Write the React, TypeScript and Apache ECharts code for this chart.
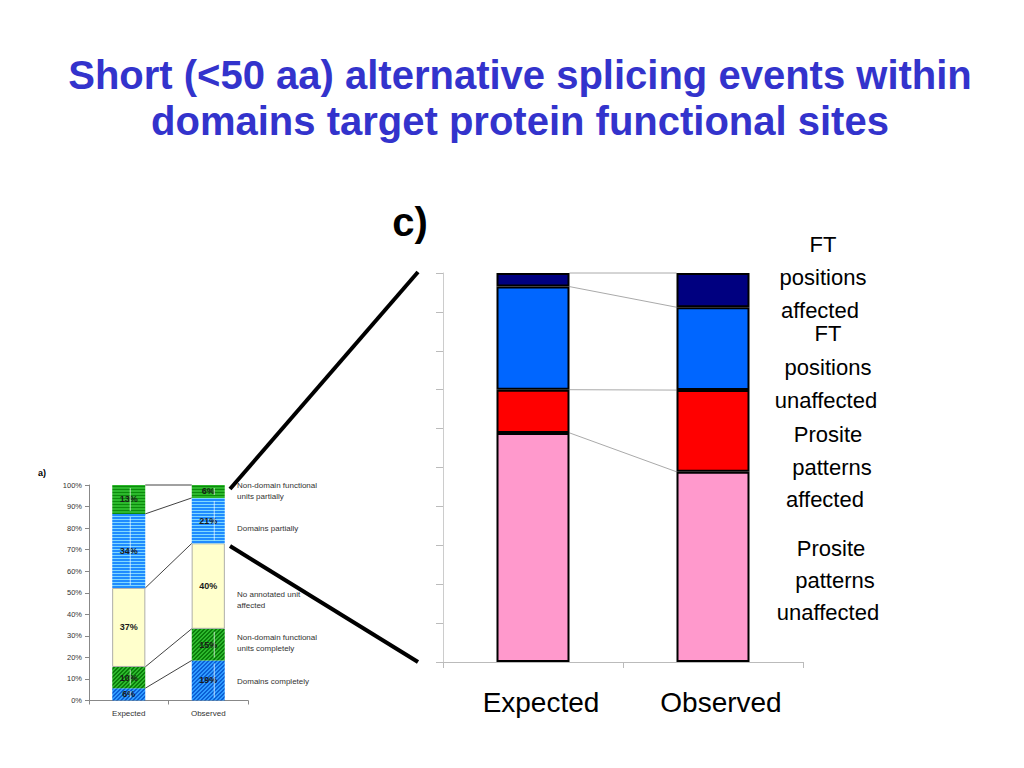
import React, { useEffect, useRef } from "react";
import * as echarts from "echarts";

// ---------- data ----------
const categories = ["Expected", "Observed"];

// small chart (a), bottom to top
const smallSeriesNames = [
  "Domains completely",
  "Non-domain functional units completely",
  "No annotated unit affected",
  "Domains partially",
  "Non-domain functional units partially",
];
const smallExpected = [5.7, 9.9, 36.6, 34.4, 13.4];
const smallObserved = [18.6, 14.7, 39.6, 21.1, 6.0];
const smallTicks = [0, 10, 20, 30, 40, 50, 60, 70, 80, 90, 100];

// small chart side labels (top to bottom)
const smallLabels = [
  ["Non-domain functional", "units partially"],
  ["Domains partially"],
  ["No annotated unit", "affected"],
  ["Non-domain functional", "units completely"],
  ["Domains completely"],
];

// big chart (c), bottom to top
const bigSeriesNames = [
  "Prosite patterns unaffected",
  "Prosite patterns affected",
  "FT positions unaffected",
  "FT positions affected",
];
const bigExpected = [58.9, 11.1, 26.5, 3.5];
const bigObserved = [48.9, 21.0, 21.3, 8.8];

// big chart side labels (top to bottom)
const bigLabels = [
  ["FT", "positions", "affected"],
  ["FT", "positions", "unaffected"],
  ["Prosite", "patterns", "affected"],
  ["Prosite", "patterns", "unaffected"],
];

const titleLines = [
  "Short (<50 aa) alternative splicing events within",
  "domains target protein functional sites",
];

// ---------- helpers ----------
function cumulative(arr: number[]): number[] {
  const out: number[] = [];
  let s = 0;
  for (const v of arr) {
    s += v;
    out.push(s);
  }
  return out;
}

function linesRenderer(cumA: number[], cumB: number[], barW: number, color: string, width: number) {
  return (params: any, api: any) => {
    const i = params.dataIndex;
    const p1 = api.coord([0, cumA[i]]);
    const p2 = api.coord([1, cumB[i]]);
    return {
      type: "line",
      shape: { x1: p1[0] + barW / 2, y1: p1[1], x2: p2[0] - barW / 2, y2: p2[1] },
      style: { stroke: color, lineWidth: width },
      silent: true,
    };
  };
}

function makePattern(base: string, stripe: string, kind: "h" | "d") {
  const c = document.createElement("canvas");
  const size = kind === "h" ? 3 : 4;
  c.width = size;
  c.height = size;
  const ctx = c.getContext("2d")!;
  ctx.fillStyle = base;
  ctx.fillRect(0, 0, size, size);
  ctx.fillStyle = stripe;
  if (kind === "h") {
    ctx.fillRect(0, 0, size, 1);
  } else {
    for (let x = 0; x < size; x++) {
      for (let y = 0; y < size; y++) {
        if ((x + y) % 4 < 2) ctx.fillRect(x, y, 1, 1);
      }
    }
  }
  return { image: c, repeat: "repeat" };
}

const FONT = "'Liberation Sans', Arial, sans-serif";

export default function App() {
  const ref = useRef<HTMLDivElement>(null);

  useEffect(() => {
    document.body.style.margin = "0";
    if (!ref.current) return;
    const chart = echarts.init(ref.current, undefined, { renderer: "svg" });

    const smallBarW = 33;
    const bigBarW = 73;

    const smallStyles: any[] = [
      { color: makePattern("#2f9cff", "#0b5fd6", "d") },
      { color: makePattern("#2db82d", "#0a7d0a", "d") },
      { color: "#ffffcc", borderColor: "#999", borderWidth: 0.8 },
      { color: makePattern("#1f8cff", "#7fd8ff", "h") },
      { color: makePattern("#2cb82c", "#0c8a0c", "h") },
    ];
    const patterned = [true, true, false, true, true];

    const bigColors = ["#ff99cc", "#ff0000", "#0066ff", "#000080"];

    const smallSeries = smallSeriesNames.map((name, k) => ({
      name,
      type: "bar",
      stack: "a",
      xAxisIndex: 0,
      yAxisIndex: 0,
      barWidth: smallBarW,
      data: [smallExpected[k], smallObserved[k]],
      itemStyle: smallStyles[k],
      label: {
        show: true,
        position: "inside",
        formatter: (p: any) => Math.round(p.value) + "%",
        fontSize: 9,
        fontWeight: "bold",
        fontFamily: FONT,
        color: "#1a1a1a",
      },
      z: 2,
    }));

    const bigSeries = bigSeriesNames.map((name, k) => ({
      name,
      type: "bar",
      stack: "c",
      xAxisIndex: 1,
      yAxisIndex: 1,
      barWidth: bigBarW,
      data: [bigExpected[k], bigObserved[k]],
      itemStyle: { color: bigColors[k], borderColor: "#000", borderWidth: 2 },
    }));

    const smallCumE = cumulative(smallExpected);
    const smallCumO = cumulative(smallObserved);
    const bigCumE = cumulative(bigExpected);
    const bigCumO = cumulative(bigObserved);

    // white vertical streaks inside patterned segments of small bars
    const streakOffsets = [1.5, 6];
    const streakItems: number[][] = [];
    [smallExpected, smallObserved].forEach((vals, c) => {
      let base = 0;
      vals.forEach((v, k) => {
        if (patterned[k]) streakItems.push([c, base, base + v]);
        base += v;
      });
    });

    const graphics: any[] = [];
    titleLines.forEach((t, i) => {
      graphics.push({
        type: "text",
        x: 520,
        y: 75 + i * 46,
        style: {
          text: t,
          font: `bold 40px ${FONT}`,
          fill: "#3333cc",
          textAlign: "center",
          textVerticalAlign: "middle",
        },
      });
    });
    graphics.push({
      type: "text",
      x: 410,
      y: 222,
      style: { text: "c)", font: `bold 40px ${FONT}`, fill: "#000", textAlign: "center", textVerticalAlign: "middle" },
    });
    graphics.push({
      type: "text",
      x: 42,
      y: 473,
      style: { text: "a)", font: `bold 9px ${FONT}`, fill: "#000", textAlign: "center", textVerticalAlign: "middle" },
    });
    // thick connectors
    graphics.push({
      type: "line",
      shape: { x1: 230, y1: 489, x2: 418, y2: 272 },
      style: { stroke: "#000", lineWidth: 4 },
    });
    graphics.push({
      type: "line",
      shape: { x1: 230, y1: 546, x2: 418, y2: 662 },
      style: { stroke: "#000", lineWidth: 4 },
    });
    // small chart labels
    const smallLabelY = [485, 528.5, 594, 637, 681];
    smallLabels.forEach((lines, i) => {
      lines.forEach((t, j) => {
        graphics.push({
          type: "text",
          x: 237,
          y: smallLabelY[i] + j * 11,
          style: { text: t, font: `8px ${FONT}`, fill: "#333", textAlign: "left", textVerticalAlign: "middle" },
        });
      });
    });
    // big chart labels
    const bigLabelPos = [
      [[823, 244], [823, 277], [820, 310]],
      [[828, 333], [828, 367], [826, 400]],
      [[828, 434], [832, 467], [825, 499]],
      [[831, 548], [835, 580], [828, 612]],
    ];
    bigLabels.forEach((lines, i) => {
      lines.forEach((t, j) => {
        graphics.push({
          type: "text",
          x: bigLabelPos[i][j][0],
          y: bigLabelPos[i][j][1],
          style: { text: t, font: `22px ${FONT}`, fill: "#000", textAlign: "center", textVerticalAlign: "middle" },
        });
      });
    });

    chart.setOption({
      animation: false,
      backgroundColor: "#fff",
      grid: [
        { left: 89, top: 485, width: 159, height: 215.5, containLabel: false },
        { left: 443, top: 273, width: 360, height: 389, containLabel: false },
      ],
      xAxis: [
        {
          type: "category",
          gridIndex: 0,
          data: categories,
          axisLine: { lineStyle: { color: "#888", width: 1 } },
          axisTick: { show: true, length: 4, lineStyle: { color: "#888" } },
          axisLabel: { fontSize: 8, color: "#333", fontFamily: FONT, margin: 9 },
        },
        {
          type: "category",
          gridIndex: 1,
          data: categories,
          axisLine: { lineStyle: { color: "#bbb", width: 1 } },
          axisTick: { show: true, length: 6, lineStyle: { color: "#bbb" } },
          axisLabel: { fontSize: 28, color: "#000", fontFamily: FONT, margin: 26, padding: [0, 0, 0, 16] },
        },
      ],
      yAxis: [
        {
          type: "value",
          gridIndex: 0,
          min: smallTicks[0],
          max: smallTicks[smallTicks.length - 1],
          interval: 10,
          axisLine: { show: true, lineStyle: { color: "#888", width: 1 } },
          axisTick: { show: true, length: 4, lineStyle: { color: "#888" } },
          splitLine: { show: false },
          axisLabel: { fontSize: 7.5, color: "#333", fontFamily: FONT, margin: 7, formatter: "{value}%" },
        },
        {
          type: "value",
          gridIndex: 1,
          min: 0,
          max: 100,
          interval: 10,
          axisLine: { show: true, lineStyle: { color: "#ccc", width: 1 } },
          axisTick: { show: true, length: 7, lineStyle: { color: "#bbb" } },
          splitLine: { show: false },
          axisLabel: { show: false },
        },
      ],
      series: [
        ...smallSeries,
        ...bigSeries,
        {
          type: "custom",
          xAxisIndex: 0,
          yAxisIndex: 0,
          renderItem: (params: any, api: any) => {
            const it = streakItems[params.dataIndex];
            const p1 = api.coord([it[0], it[1]]);
            const p2 = api.coord([it[0], it[2]]);
            const x = p1[0] + streakOffsets[it[0]];
            return {
              type: "line",
              shape: { x1: x, y1: p1[1] - 3, x2: x, y2: p2[1] + 3 },
              style: { stroke: "#ffffff", lineWidth: 0.8, opacity: 0.85 },
              silent: true,
            };
          },
          data: streakItems.map((it) => [it[0], it[2]]),
          z: 3,
          silent: true,
        },
        {
          type: "custom",
          xAxisIndex: 0,
          yAxisIndex: 0,
          renderItem: linesRenderer(smallCumE, smallCumO, smallBarW, "#111", 0.8),
          data: smallCumE.map((v) => [0, v]),
          z: 1,
          silent: true,
        },
        {
          type: "custom",
          xAxisIndex: 1,
          yAxisIndex: 1,
          renderItem: linesRenderer(bigCumE, bigCumO, bigBarW, "#aaa", 1),
          data: bigCumE.map((v) => [0, v]),
          z: 1,
          silent: true,
        },
      ],
      graphic: graphics,
    });

    return () => chart.dispose();
  }, []);

  return <div ref={ref} style={{ width: 1024, height: 768 }} />;
}
